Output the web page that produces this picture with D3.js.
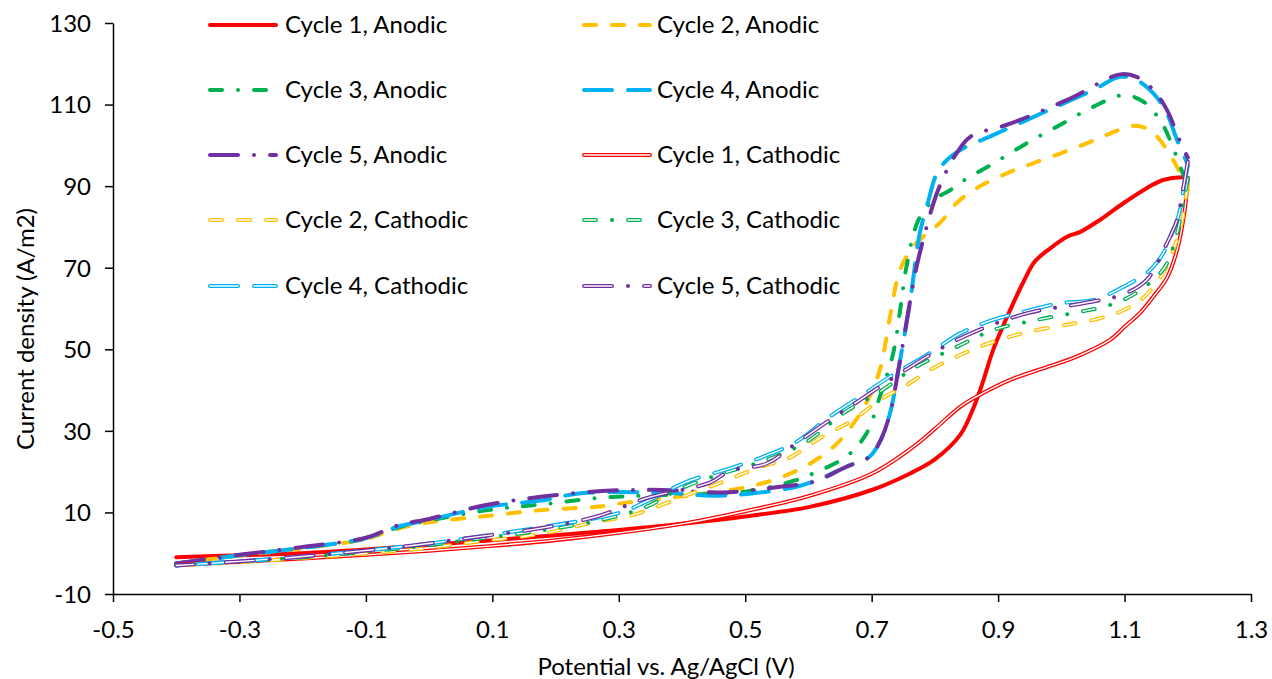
<!DOCTYPE html>
<html>
<head>
<meta charset="utf-8">
<script src="https://cdn.jsdelivr.net/npm/d3@7"></script>
<style>
  html, body { margin: 0; padding: 0; background: #ffffff; }
  svg { display: block; }
  text { font-family: Lato, "Liberation Sans", sans-serif; fill: #000; }
</style>
</head>
<body>
<svg id="chart" width="1272" height="679"></svg>
<script>
// ---------------- data ----------------
const xTicks = [-0.5, -0.3, -0.1, 0.1, 0.3, 0.5, 0.7, 0.9, 1.1, 1.3];
const yTicks = [-10, 10, 30, 50, 70, 90, 110, 130];

const seriesNames = [
  "Cycle 1, Anodic", "Cycle 2, Anodic", "Cycle 3, Anodic", "Cycle 4, Anodic", "Cycle 5, Anodic",
  "Cycle 1, Cathodic", "Cycle 2, Cathodic", "Cycle 3, Cathodic", "Cycle 4, Cathodic", "Cycle 5, Cathodic"
];

// [potential (V), current density (A/m2)]
const c1Anodic = [[-0.4,-1.0],[-0.3,-0.5],[-0.2,0.0],[-0.1,0.9],[0.0,2.0],[0.1,3.2],[0.2,4.4],[0.3,5.7],[0.4,7.2],[0.5,9.0],[0.6,11.3],[0.7,15.5],[0.76,19.5],[0.8,23.0],[0.84,29.0],[0.862,36.0],[0.877,42.5],[0.892,49.8],[0.919,59.6],[0.94,66.5],[0.958,71.5],[0.982,74.7],[1.009,77.6],[1.03,78.8],[1.061,81.7],[1.098,85.8],[1.135,89.5],[1.161,91.5],[1.19,92.2],[1.2,92.0]];
const c2Anodic = [[-0.4,-2.5],[-0.3,-0.6],[-0.2,1.2],[-0.1,3.5],[-0.05,6.0],[0.0,7.6],[0.09,9.1],[0.18,10.6],[0.265,11.4],[0.312,12.4],[0.397,13.9],[0.492,15.9],[0.555,18.5],[0.608,22.5],[0.649,27.5],[0.692,37.0],[0.713,45.0],[0.729,58.0],[0.745,69.5],[0.766,75.2],[0.787,78.4],[0.808,81.0],[0.834,85.8],[0.866,89.5],[0.913,93.1],[0.955,95.6],[0.998,98.0],[1.04,100.5],[1.077,102.9],[1.114,104.8],[1.14,103.8],[1.156,101.3],[1.177,96.4],[1.188,93.1],[1.2,89.0]];
const c3Anodic = [[-0.4,-2.5],[-0.3,-0.5],[-0.2,1.3],[-0.1,3.6],[-0.05,6.3],[0.0,8.0],[0.09,10.5],[0.18,12.0],[0.28,13.7],[0.38,14.3],[0.5,15.1],[0.58,17.9],[0.608,19.6],[0.66,23.7],[0.692,29.4],[0.713,38.4],[0.734,49.0],[0.745,59.6],[0.755,70.2],[0.774,81.7],[0.798,86.6],[0.824,89.0],[0.85,91.8],[0.892,95.5],[0.945,100.5],[0.998,105.0],[1.051,109.5],[1.098,112.3],[1.13,110.7],[1.156,106.2],[1.172,101.3],[1.188,94.8],[1.2,90.0]];
const c4Anodic = [[-0.4,-2.5],[-0.3,-0.5],[-0.2,1.3],[-0.1,3.7],[-0.05,6.5],[0.0,8.2],[0.09,11.3],[0.18,13.0],[0.24,14.7],[0.37,14.8],[0.45,14.1],[0.513,14.7],[0.581,16.3],[0.613,17.9],[0.66,21.2],[0.697,23.7],[0.715,28.0],[0.729,34.3],[0.745,47.4],[0.761,62.0],[0.768,70.0],[0.776,78.4],[0.79,86.6],[0.803,93.1],[0.819,96.4],[0.845,99.3],[0.892,102.5],[0.945,106.2],[0.998,109.9],[1.051,113.6],[1.093,116.8],[1.119,116.0],[1.146,112.7],[1.167,107.8],[1.183,101.3],[1.197,96.4],[1.2,95.0]];
const c5Anodic = [[-0.4,-2.5],[-0.3,-0.4],[-0.2,1.5],[-0.1,3.8],[-0.05,6.8],[0.0,8.4],[0.09,11.8],[0.18,13.9],[0.28,15.3],[0.37,15.5],[0.465,14.9],[0.555,16.3],[0.608,17.5],[0.66,21.2],[0.697,23.7],[0.715,28.0],[0.729,34.3],[0.745,47.4],[0.761,62.0],[0.771,70.2],[0.787,80.1],[0.803,88.2],[0.819,93.9],[0.834,98.0],[0.856,102.1],[0.919,105.3],[1.014,111.5],[1.093,117.4],[1.119,116.8],[1.146,113.5],[1.167,108.7],[1.188,100.9],[1.2,97.0]];

const c1Cathodic = [[1.2,92.0],[1.195,84.0],[1.183,74.3],[1.167,67.5],[1.146,63.0],[1.125,59.0],[1.1,55.5],[1.077,52.3],[1.024,48.2],[0.971,45.3],[0.919,42.5],[0.866,38.4],[0.84,35.9],[0.8,30.5],[0.766,26.1],[0.7,19.5],[0.6,14.0],[0.5,10.3],[0.4,7.2],[0.3,5.0],[0.2,3.2],[0.1,1.8],[0.0,0.6],[-0.1,-0.4],[-0.2,-1.3],[-0.3,-2.1],[-0.4,-2.8]];
const c2Cathodic = [[1.2,90.0],[1.197,87.4],[1.19,80.9],[1.177,74.3],[1.159,68.2],[1.13,62.7],[1.093,59.2],[1.051,57.2],[1.004,55.9],[0.961,54.7],[0.919,53.1],[0.877,51.0],[0.84,48.6],[0.792,44.9],[0.755,41.2],[0.713,37.6],[0.671,32.7],[0.618,28.2],[0.571,23.5],[0.518,20.8],[0.465,17.5],[0.402,13.9],[0.36,11.4],[0.323,9.4],[0.265,7.7],[0.175,4.7],[0.075,2.8],[-0.02,1.0],[-0.2,-1.2],[-0.3,-2.2],[-0.4,-3.0]];
const c3Cathodic = [[1.2,92.0],[1.183,78.4],[1.167,71.0],[1.156,68.6],[1.125,64.5],[1.098,62.1],[1.067,60.4],[1.03,59.2],[0.961,57.2],[0.892,54.7],[0.84,51.0],[0.766,45.3],[0.713,39.6],[0.655,34.3],[0.597,27.3],[0.534,22.9],[0.465,19.6],[0.397,15.8],[0.344,11.4],[0.27,8.1],[0.175,5.5],[0.075,3.5],[-0.02,1.6],[-0.2,-1.0],[-0.3,-2.0],[-0.4,-3.0]];
const c4Cathodic = [[1.2,95.0],[1.193,89.0],[1.185,82.5],[1.177,79.2],[1.161,73.5],[1.14,69.4],[1.098,65.3],[1.051,62.1],[0.998,61.3],[0.961,60.0],[0.892,57.2],[0.84,53.9],[0.787,48.6],[0.729,43.3],[0.682,38.4],[0.634,33.5],[0.581,27.3],[0.529,23.7],[0.476,20.8],[0.407,17.5],[0.355,13.5],[0.307,10.2],[0.27,8.8],[0.175,6.3],[0.075,4.0],[-0.02,2.0],[-0.2,-0.8],[-0.3,-2.0],[-0.4,-3.0]];
const c5Cathodic = [[1.2,96.0],[1.19,87.0],[1.183,81.7],[1.167,76.0],[1.135,67.0],[1.098,63.5],[1.035,61.3],[0.945,58.8],[0.84,52.7],[0.729,42.5],[0.682,37.6],[0.634,32.7],[0.581,27.0],[0.534,22.0],[0.476,20.2],[0.444,17.3],[0.344,13.5],[0.265,9.0],[0.175,6.1],[0.075,4.0],[-0.02,2.0],[-0.2,-0.8],[-0.3,-2.0],[-0.4,-3.0]];

const seriesData = [c1Anodic, c2Anodic, c3Anodic, c4Anodic, c5Anodic,
                    c1Cathodic, c2Cathodic, c3Cathodic, c4Cathodic, c5Cathodic];

// ---------------- styles ----------------
const colors = ["#FF0000", "#FFC000", "#00B050", "#00B0F0", "#7030A0"];
const dashes = [null, "12,16", "12,16,0.01,16", "28,16", "28,16,0.01,16"];
// inner (white) dash for the double line: dots are skipped
const innerDashes = [null, "12,16", "12,32.01", "28,16", "28,32.01"];
const styles = seriesData.map((d, i) => ({
  color: colors[i % 5],
  dash: dashes[i % 5],
  inner: innerDashes[i % 5],
  double: i >= 5
}));

// ---------------- layout ----------------
const svg = d3.select("#chart");
const x = d3.scaleLinear().domain([-0.5, 1.3]).range([113, 1251]);
const y = d3.scaleLinear().domain([-10, 130]).range([594, 23]);

const LW = 4;
const FS = "24px";
const line = d3.line().x(d => x(d[0])).y(d => y(d[1])).curve(d3.curveCatmullRom.alpha(0.5));

// axes
const xAxis = svg.append("g").attr("transform", `translate(0,${y(-10)})`)
  .call(d3.axisBottom(x).tickValues(xTicks).tickSize(8).tickSizeOuter(0).tickFormat(d => d.toFixed(1)));
const yAxis = svg.append("g").attr("transform", `translate(${x(-0.5)},0)`)
  .call(d3.axisLeft(y).tickValues(yTicks).tickSize(8).tickSizeOuter(0).tickFormat(d => String(d)));
[xAxis, yAxis].forEach(g => {
  g.selectAll("path.domain").attr("stroke", "#000").attr("stroke-width", 1.5);
  g.selectAll(".tick line").attr("stroke", "#000").attr("stroke-width", 1.5);
  g.selectAll(".tick text").style("font-family", "Lato, sans-serif").style("font-size", FS).attr("fill", "#000");
});
xAxis.selectAll(".tick text").attr("dy", "0").attr("y", 44);
yAxis.selectAll(".tick text").attr("x", -22).attr("dy", "0.35em");

// series
const plot = svg.append("g");
seriesData.forEach((data, i) => {
  const s = styles[i];
  const p = plot.append("path").datum(data).attr("d", line)
    .attr("fill", "none").attr("stroke", s.color).attr("stroke-width", LW)
    .attr("stroke-linecap", "round").attr("stroke-linejoin", "round");
  if (s.dash) p.attr("stroke-dasharray", s.dash);
  if (s.double) {
    const q = plot.append("path").datum(data).attr("d", line)
      .attr("fill", "none").attr("stroke", "#fff").attr("stroke-width", 1.4)
      .attr("stroke-linecap", "round").attr("stroke-linejoin", "round");
    if (s.inner) q.attr("stroke-dasharray", s.inner);
  }
});

// axis titles
svg.append("text").attr("x", 666).attr("y", 675).attr("text-anchor", "middle")
  .style("font-size", FS).text("Potential vs. Ag/AgCl (V)");
svg.append("text").attr("transform", "translate(34,329) rotate(-90)").attr("text-anchor", "middle")
  .style("font-size", FS).text("Current density (A/m2)");

// legend
const legCols = [{lx: 208, tx: 285}, {lx: 582, tx: 657}];
const legRowY = [25, 90, 155, 220, 286];
const legend = svg.append("g");
seriesNames.forEach((name, i) => {
  const col = legCols[i % 2];
  const ry = legRowY[Math.floor(i / 2)];
  const s = styles[i];
  const p = legend.append("line").attr("x1", col.lx + 2).attr("x2", col.lx + 68).attr("y1", ry).attr("y2", ry)
    .attr("stroke", s.color).attr("stroke-width", LW).attr("stroke-linecap", "round");
  if (s.dash) p.attr("stroke-dasharray", s.dash);
  if (s.double) {
    const q = legend.append("line").attr("x1", col.lx + 2).attr("x2", col.lx + 68).attr("y1", ry).attr("y2", ry)
      .attr("stroke", "#fff").attr("stroke-width", 1.4).attr("stroke-linecap", "round");
    if (s.inner) q.attr("stroke-dasharray", s.inner);
  }
  legend.append("text").attr("x", col.tx).attr("y", ry).attr("dy", "0.35em")
    .style("font-size", FS).text(name);
});
</script>
</body>
</html>
